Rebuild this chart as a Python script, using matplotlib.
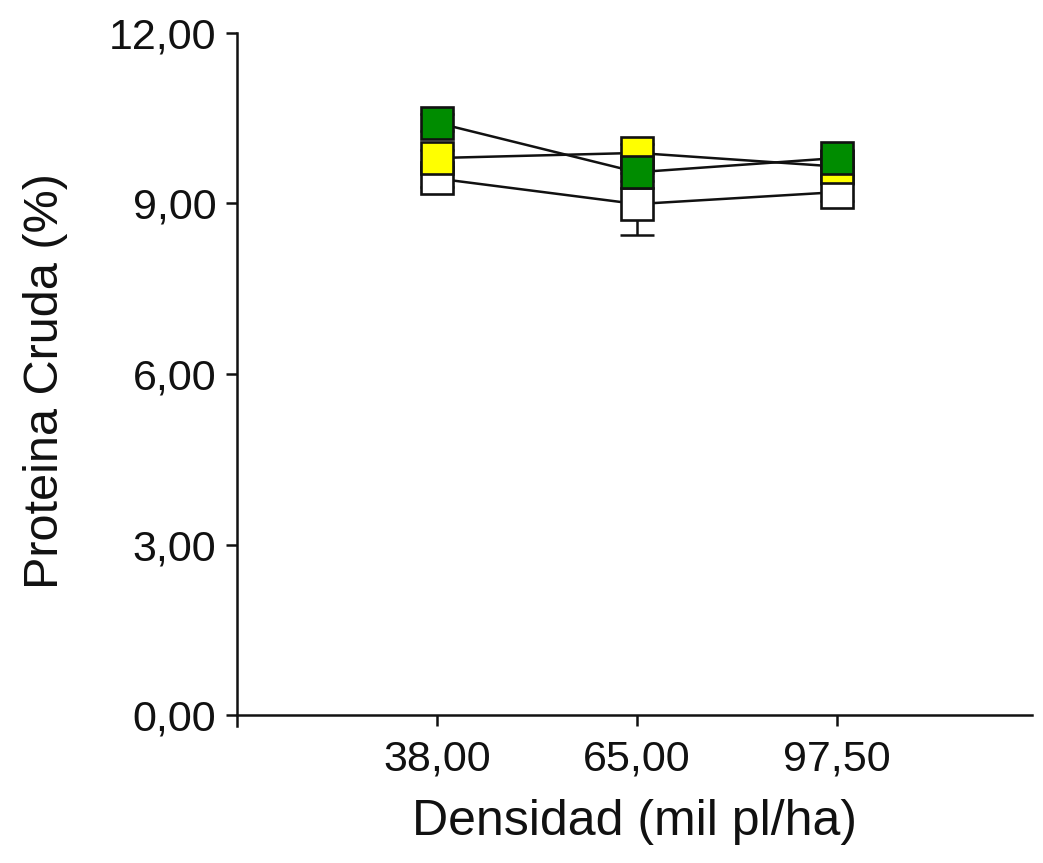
import matplotlib
matplotlib.use("Agg")
import matplotlib.pyplot as plt

plt.rcParams['font.family'] = ['Liberation Sans', 'DejaVu Sans']

categories = ["38,00", "65,00", "97,50"]
yticks = [0, 3, 6, 9, 12]
ytick_labels = ["0,00", "3,00", "6,00", "9,00", "12,00"]

white_vals = [9.44, 8.99, 9.20]
white_err = [0.15, 0.55, 0.15]
yellow_vals = [9.80, 9.89, 9.65]
yellow_err = [0.15, 0.15, 0.15]
green_vals = [10.42, 9.55, 9.80]
green_err = [0.15, 0.15, 0.15]

series = [
    ("blanco", white_vals, white_err, "#ffffff"),
    ("amarillo", yellow_vals, yellow_err, "#ffff00"),
    ("verde", green_vals, green_err, "#008c00"),
]

fig = plt.figure(figsize=(10.43, 8.63), dpi=100)
ax = fig.add_axes([237/1043, 1-715/863, (1032-237)/1043, (715-33)/863])

x = list(range(1, len(categories) + 1))
for i, (name, vals, err, col) in enumerate(series):
    ax.errorbar(x, vals, yerr=err, color="#111111", lw=1.8, elinewidth=1.8,
                capsize=12, capthick=1.8, zorder=1 + i * 0.01)
for i, (name, vals, err, col) in enumerate(series):
    ax.plot(x, vals, linestyle="none", marker="s", markersize=22.5,
            markerfacecolor=col, markeredgecolor="#111111", markeredgewidth=1.9,
            zorder=3 + i)

ax.set_xlim(0, 3.975)
ax.set_ylim(0, 12)
ax.set_xticks(x)
ax.set_xticklabels(categories)
ax.set_yticks(yticks)
ax.set_yticklabels(ytick_labels)

for s in ["top", "right"]:
    ax.spines[s].set_visible(False)
for s in ["left", "bottom"]:
    ax.spines[s].set_linewidth(1.8)
    ax.spines[s].set_color("#111111")
ax.spines["left"].set_bounds(-0.2, 12)

ax.tick_params(axis="both", direction="out", length=8, width=1.8,
               labelsize=31, colors="#111111")
ax.tick_params(axis="x", pad=10)
ax.tick_params(axis="y", pad=7)

ax.set_xlabel("Densidad (mil pl/ha)", fontsize=36, color="#111111", labelpad=14)
ax.set_ylabel("Proteina Cruda (%)", fontsize=35, color="#111111")
ax.yaxis.set_label_coords(-0.212, 0.49)

fig.savefig("out.png", dpi=100)
